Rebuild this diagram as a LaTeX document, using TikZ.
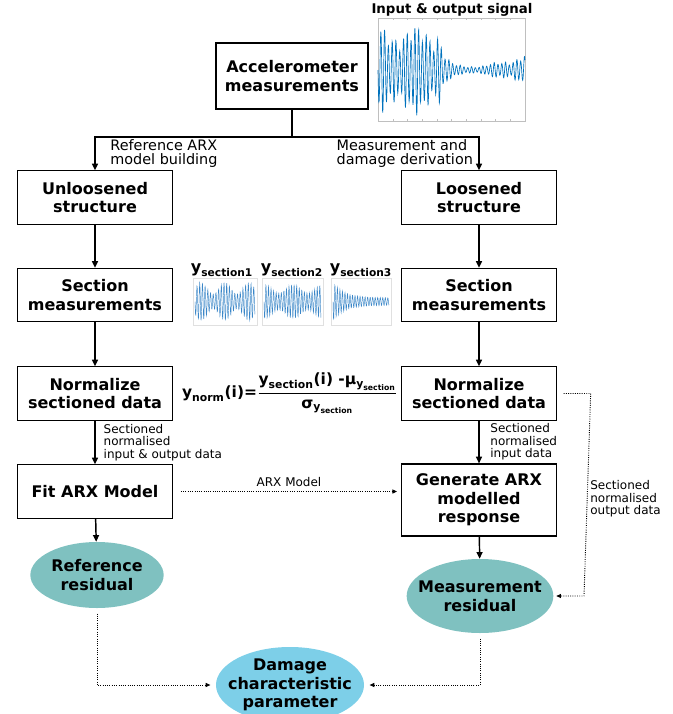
\documentclass[tikz,border=0pt]{standalone}
\usepackage{amsmath}
\usepackage{fontspec}
\setmainfont{DejaVu Sans}
\usetikzlibrary{arrows.meta,positioning,shapes.geometric}
\definecolor{tealfill}{RGB}{127,193,192}
\definecolor{skyfill}{RGB}{125,207,232}
\definecolor{sigblue}{RGB}{0,114,189}
\definecolor{secblue}{RGB}{60,135,200}
\newcommand{\bsf}[1]{\text{\bfseries #1}}

\begin{document}
\begin{tikzpicture}[
  x=0.75pt, y=-0.75pt,
  font=\fontsize{12}{14}\selectfont\bfseries,
  box/.style={draw, line width=0.9pt, align=center, minimum width=116pt, minimum height=40pt, inner sep=2pt},
  oval/.style={ellipse, fill=tealfill, align=center, inner xsep=-9pt, inner ysep=0pt},
  lbl/.style={font=\fontsize{9}{9.3}\selectfont, align=left, inner sep=0pt},
  toplbl/.style={font=\fontsize{10.8}{10.8}\selectfont, align=left, inner sep=0pt},
  arr/.style={-{Triangle[length=5pt,width=4.5pt]}, line width=1.1pt},
  dotarr/.style={-{Triangle[length=3.5pt,width=3pt]}, densely dotted, line width=0.7pt},
  frame/.style={draw=black!25, line width=0.3pt},
  declare function={env(\s)=(\s<0.42)*0.97+(\s>=0.42)*(0.1+0.87*exp(-30*max(\s-0.42,0)))+(\s>0.72)*0.25*(\s-0.72)/0.28;}
]
\useasboundingbox (0,0) rectangle (672,714);

% signal plots
\node[font=\fontsize{10}{12}\selectfont\bfseries] (sigtitle) at (452,10) {Input \& output signal};
\draw[frame] (378,18) rectangle (525,121);
\foreach \k in {1,...,9} {
  \draw[frame] ({378+14.7*\k},121) -- ++(0,-2);
  \draw[frame] ({378+14.7*\k},18) -- ++(0,2);
}
\draw[sigblue, line width=0.5pt] plot[domain=0:1, samples=520]
  ({378+147*\x}, {70+47*env(\x)*(0.7+0.3*sin(3100*\x)*sin(1700*\x))*sin(14000*\x)});

\node[font=\fontsize{12}{12}\selectfont] (ys1) at (222,270) {$\bsf{y}_{\bsf{section1}}$};
\node[font=\fontsize{12}{12}\selectfont] (ys2) at (292,270) {$\bsf{y}_{\bsf{section2}}$};
\node[font=\fontsize{12}{12}\selectfont] (ys3) at (361,270) {$\bsf{y}_{\bsf{section3}}$};
\draw[draw=black!12] (193,278) rectangle (257,325);
\draw[draw=black!12] (262,278) rectangle (323,325);
\draw[draw=black!12] (331,278) rectangle (391,325);
\draw[secblue, line width=0.35pt] plot[domain=0:1, samples=220]
  ({195+60*\x}, {301.5+19*(0.7+0.3*sin(900*\x))*sin(8000*\x)});
\draw[secblue, line width=0.35pt] plot[domain=0:1, samples=220]
  ({264+57*\x}, {301.5+17*(0.75+0.25*sin(700*\x+90))*sin(8000*\x)});
\draw[secblue, line width=0.35pt] plot[domain=0:1, samples=220]
  ({333+56*\x}, {301.5+19*(0.2+0.8*exp(-5*\x))*sin(8000*\x)});

% boxes
\node[box, minimum width=114pt, minimum height=49.5pt] (acc) at (292,76) {Accelerometer\\measurements};
\node[box] (unl) at (95,197.5) {Unloosened\\structure};
\node[box] (loo) at (479,197.5) {Loosened\\structure};
\node[box] (secL) at (95,295) {Section\\measurements};
\node[box] (secR) at (479,295) {Section\\measurements};
\node[box] (normL) at (95,393.5) {Normalize\\sectioned data};
\node[box] (normR) at (479,393.5) {Normalize\\sectioned data};
\node[box] (fit) at (95,491.5) {Fit ARX Model};
\node[box, minimum height=54pt] (gen) at (479,500) {Generate ARX\\modelled\\response};
\node[oval, minimum width=100pt, minimum height=49.5pt] (refres) at (97,575) {Reference\\residual};
\node[oval, minimum width=110pt, minimum height=55.5pt] (meares) at (480,596) {Measurement\\residual};
\node[oval, fill=skyfill, minimum width=111pt, minimum height=57pt] (dcp) at (290,685) {Damage\\characteristic\\parameter};

\node[font=\fontsize{11.6}{13}\selectfont] (eq) at (290,393)
  {$\bsf{y}_{\bsf{norm}}\bsf{(i)=}\dfrac{\bsf{y}_{\bsf{section}}\bsf{(i) -μ}_{\bsf{y}_{\bsf{section}}}}{\bsf{σ}_{\bsf{y}_{\bsf{section}}}}$};

% connectors
\coordinate (split) at (292,137);
\draw[line width=1.1pt] (acc.south) -- (split);
\draw[arr] (split) -| (unl.north) node[pos=0.75, right=11pt, toplbl] {Reference ARX\\model building};
\draw[arr] (split) -| (loo.north) node[pos=0.75, left=4pt, toplbl] {Measurement and\\damage derivation};
\draw[arr] (unl) -- (secL);
\draw[arr] (secL) -- (normL);
\draw[arr] (loo) -- (secR);
\draw[arr] (secR) -- (normR);
\draw[arr] (normL) -- (fit) node[midway, right=6pt, lbl] {Sectioned\\normalised\\input \& output data};
\draw[arr] (normR) -- (gen) node[midway, right=8pt, lbl] {Sectioned\\normalised\\input data};
\draw[arr] (fit) -- (refres);
\draw[arr] (gen) -- (meares);
\draw[dotarr] ([xshift=6pt]fit.east) -- ([xshift=-3pt]fit.east -| gen.west) node[midway, above=3pt, lbl] {ARX Model};

\coordinate (side) at (584,0);
\draw[dotarr] ([xshift=5pt]normR.east) -- ([xshift=5pt]normR.east -| side) -- (side |- meares.east)
  node[pos=0.52, right=2pt, lbl] {Sectioned\\normalised\\output data} -- ([xshift=2pt]meares.east);
\draw[dotarr] ([yshift=-4pt]refres.south) |- ([xshift=-4pt]dcp.west);
\draw[dotarr] ([yshift=-4pt]meares.south) |- ([xshift=4pt]dcp.east);
\end{tikzpicture}
\end{document}
